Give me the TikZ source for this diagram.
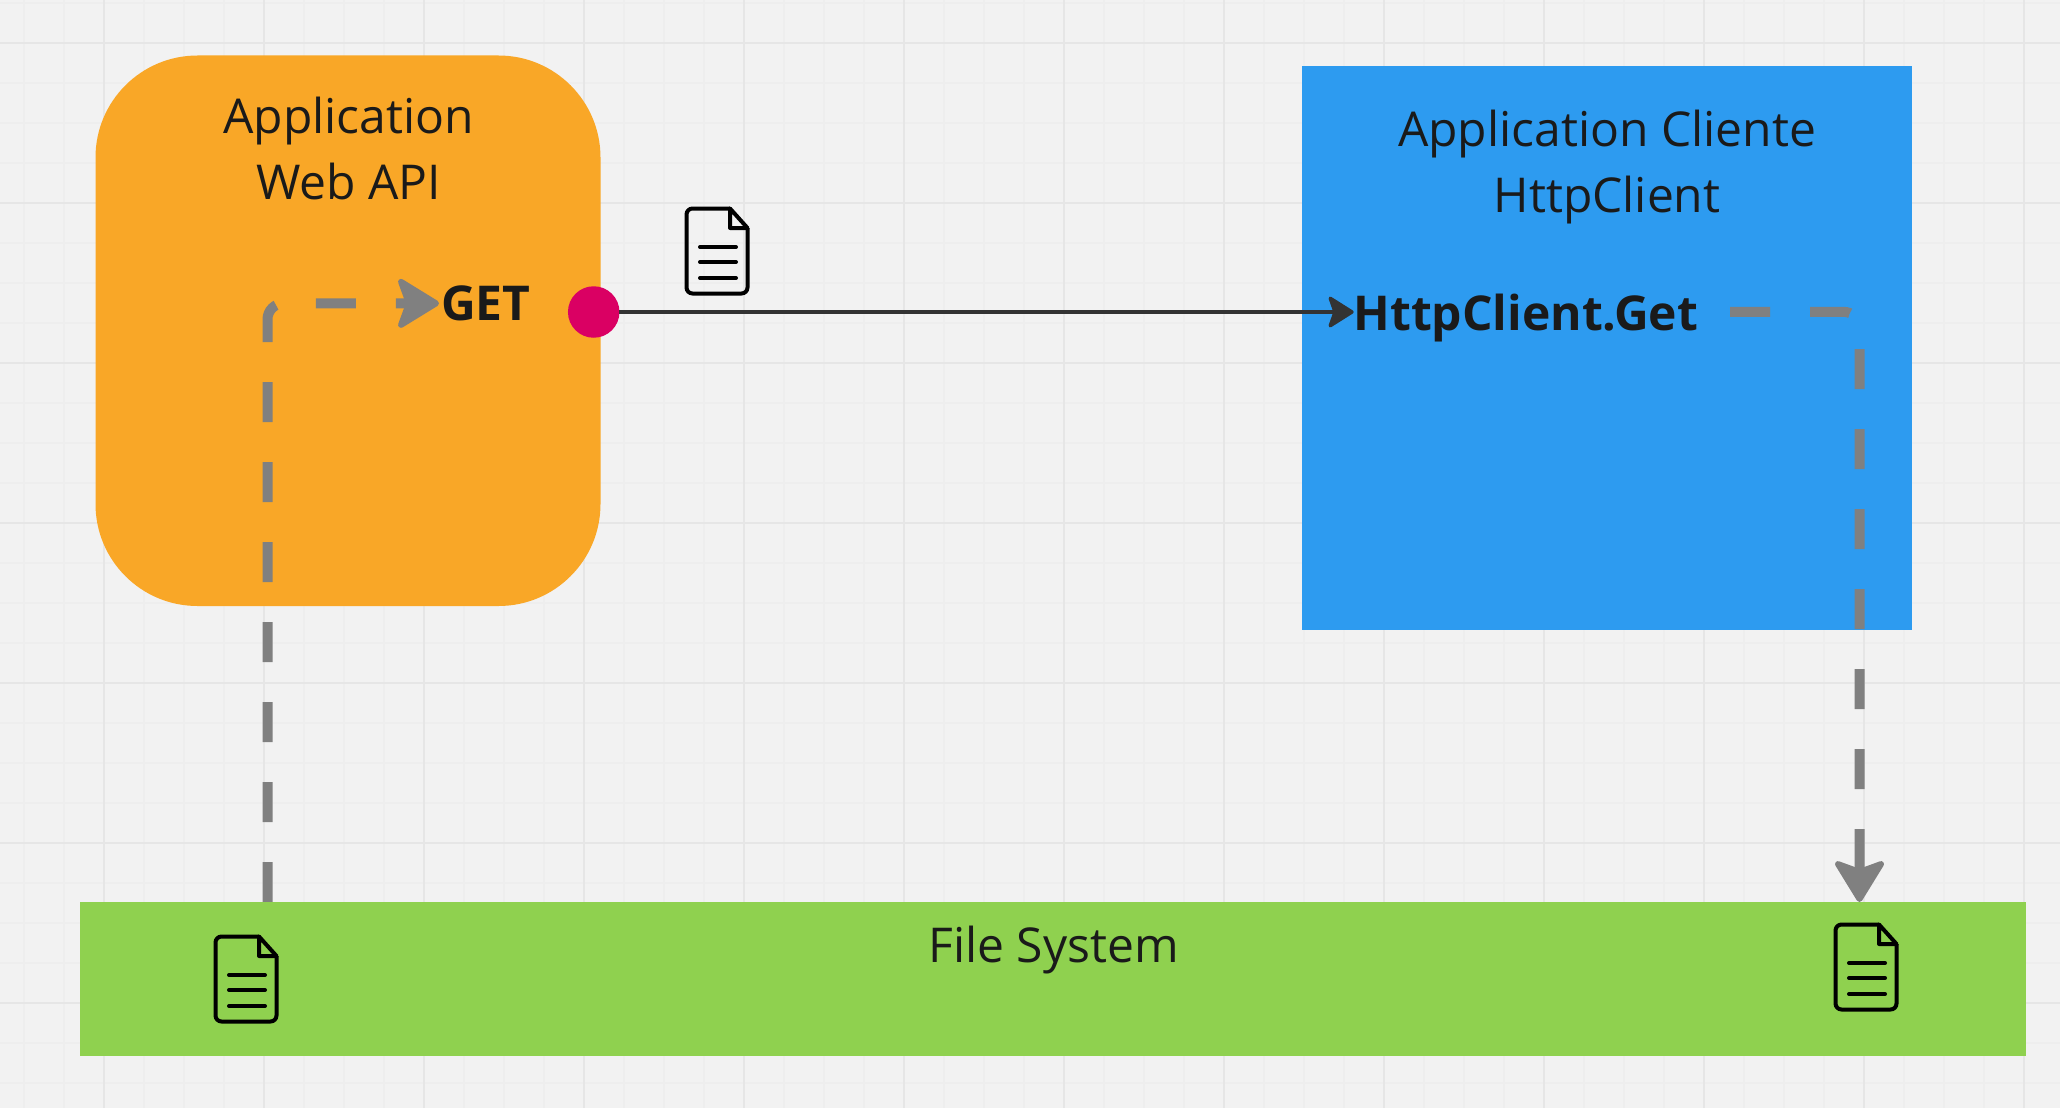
\documentclass[tikz,border=0pt]{standalone}
\usepackage{fontspec}
\setmainfont{Open Sans}
\usetikzlibrary{arrows.meta}
\definecolor{bgc}{HTML}{F2F2F2}
\definecolor{gridmajor}{HTML}{E6E6E6}
\definecolor{gridminor}{HTML}{EEEEEE}
\definecolor{orangec}{HTML}{F9A727}
\definecolor{bluec}{HTML}{2D9BF0}
\definecolor{greenc}{HTML}{8FD14F}
\definecolor{pinkc}{HTML}{DA0063}
\definecolor{greyc}{HTML}{808080}
\definecolor{darkc}{HTML}{333333}
\definecolor{textc}{HTML}{1A1A1A}
\tikzset{
  x=1pt,y=-1pt,
  panel/.style={inner sep=0pt,outer sep=0pt,anchor=north west},
  title/.style={inner sep=0pt,outer sep=0pt,align=center,text=textc,font=\fontsize{48}{66}\selectfont},
  strong/.style={inner sep=0pt,outer sep=0pt,anchor=base west,text=textc,font=\fontsize{48}{66}\selectfont\bfseries},
  dashline/.style={draw=greyc,line width=10pt,dash pattern=on 40pt off 40pt,rounded corners=16pt,
    -{Stealth[length=46pt,width=56pt,inset=10pt,round,line width=6pt]}},
  flowline/.style={draw=darkc,line width=3.6pt,-{Stealth[length=28pt,width=35pt,inset=6pt,round,line width=3.5pt]}},
  docicon/.pic={
    \draw[black,line width=4pt,line join=round,rounded corners=6pt]
      (45,1.5) -- (1.5,1.5) -- (1.5,86.5) -- (62.5,86.5) -- (62.5,21);
    \draw[black,line width=4pt,line join=round]
      (62.5,21) -- (45,21) -- (45,1.5) -- cycle;
    \foreach \yy in {40,55,71}
      \draw[black,line width=4pt,line cap=round] (15,\yy) -- (51,\yy);
  }
}
\begin{document}
\begin{tikzpicture}
\useasboundingbox (0,0) rectangle (2060,1108);
\fill[bgc] (0,0) rectangle (2060,1108);
% grid
\foreach \xx in {24,64,144,184,224,304,344,384,464,504,544,624,664,704,784,824,864,944,984,1024,1104,1144,1184,1264,1304,1344,1424,1464,1504,1584,1624,1664,1744,1784,1824,1904,1944,1984}
  \draw[gridminor,line width=1.5pt] (\xx,0) -- (\xx,1108);
\foreach \yy in {3,83,123,163,243,283,323,403,443,483,563,603,643,723,763,803,883,923,963,1043,1083}
  \draw[gridminor,line width=1.5pt] (0,\yy) -- (2060,\yy);
\foreach \xx in {104,264,424,584,744,904,1064,1224,1384,1544,1704,1864,2024}
  \draw[gridmajor,line width=2.5pt] (\xx,0) -- (\xx,1108);
\foreach \yy in {43,203,363,523,683,843,1003}
  \draw[gridmajor,line width=2.5pt] (0,\yy) -- (2060,\yy);

% panels
\node[panel,fill=orangec,rounded corners=102pt,minimum width=505pt,minimum height=550.5pt] (api) at (95.5,55.5) {};
\node[panel,fill=bluec,minimum width=610pt,minimum height=564pt] (client) at (1302,66) {};

% labels
\node[title,anchor=base] (apititle) at (348.5,199.5) {Application\\Web API};
\node[title,anchor=base] (clienttitle) at (1607,212.7) {Application Cliente\\HttpClient};
\node[strong,inner xsep=2pt] (get) at (439,320.5) {GET};
\node[strong] (hget) at (1353.5,330) {HttpClient.Get};
\node[circle,fill=pinkc,inner sep=0pt,outer sep=0pt,minimum size=51.5pt] (dot) at (593.7,312) {};

% free ends
\coordinate (leftstart) at (267.5,902);
\coordinate (rightstart) at (1730,311.8);
\coordinate (rightend) at (1859.5,902);
\coordinate (httpin) at (1353.7,312);

% connectors
\draw[dashline] (leftstart) |- (get.west);
\draw[dashline] (rightstart) -| (rightend);
\draw[flowline] (dot.east) -- (httpin);

% file system bar above the grey lines
\node[panel,fill=greenc,minimum width=1946pt,minimum height=154pt] (fs) at (80,902) {};
\node[title,anchor=base] (fstitle) at (1053.5,962.7) {File System};

% document icons
\pic at (685,207) {docicon};
\pic at (214,935) {docicon};
\pic at (1834,923) {docicon};
\end{tikzpicture}
\end{document}
